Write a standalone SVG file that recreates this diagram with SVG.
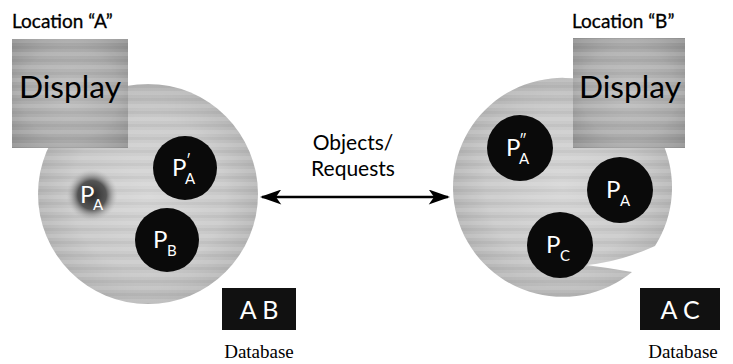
<svg xmlns="http://www.w3.org/2000/svg" width="733" height="364" viewBox="0 0 733 364">
<defs>
<radialGradient id="bigG" cx="50%" cy="50%" r="50%">
<stop offset="0" stop-color="#d6d6d6"/><stop offset="0.7" stop-color="#c8c8c8"/><stop offset="1" stop-color="#b6b6b6"/>
</radialGradient>
<radialGradient id="dispG" cx="50%" cy="50%" r="70%">
<stop offset="0" stop-color="#bdbdbd"/><stop offset="0.6" stop-color="#ababab"/><stop offset="1" stop-color="#8e8e8e"/>
</radialGradient>
<radialGradient id="blurG" cx="50%" cy="50%" r="50%">
<stop offset="0" stop-color="#2a2a2a"/><stop offset="0.55" stop-color="#555"/><stop offset="1" stop-color="#c0c0c0" stop-opacity="0"/>
</radialGradient>
<pattern id="streak" width="60" height="13" patternUnits="userSpaceOnUse">
<rect y="0" width="60" height="4" fill="#ffffff" opacity="0.12"/>
<rect y="7" width="60" height="3" fill="#000" opacity="0.04"/>
</pattern>
<marker id="ah" viewBox="0 0 20 14" refX="18" refY="7" markerWidth="22" markerHeight="15" markerUnits="userSpaceOnUse" orient="auto-start-reverse">
<path d="M0,0 L20,7 L0,14 L5,7 Z" fill="#000"/>
</marker>
<style>
.lbl{font-family:Lato,"Open Sans","Liberation Sans",sans-serif;fill:#000}
.loc{font-size:19px;stroke:#000;stroke-width:0.3}
.disp{font-size:30px;fill:#000}
.pw{font-family:Lato,"Open Sans","Liberation Sans",sans-serif;fill:#fff}
.pbig{font-size:24px}
.psub{font-size:15px}
.dbk{fill:#111}
.dbt{font-family:Lato,"Open Sans","Liberation Sans",sans-serif;font-size:25px;fill:#fff}
.dbl{font-family:"Liberation Serif","DejaVu Serif",serif;font-size:19px;fill:#000}
.pc{fill:#0a0a0a}
.big{fill:url(#bigG)}
.str{fill:url(#streak)}
</style>
</defs>
<rect width="733" height="364" fill="#fff"/>

<g id="locationA">
<text class="lbl loc" x="12" y="28">Location “A”</text>
<circle class="big" cx="148" cy="194" r="110"/>
<circle class="str" cx="148" cy="194" r="110"/>
<g id="displayA">
<rect x="12" y="39" width="116" height="109" fill="url(#dispG)"/>
<rect class="str" x="12" y="39" width="116" height="109"/>
<text class="lbl disp" x="19" y="98" textLength="102" lengthAdjust="spacingAndGlyphs">Display</text>
</g>
<g id="PA_left">
<circle cx="92" cy="195" r="26" fill="url(#blurG)"/>
<text class="pw pbig" x="80" y="203">P</text><text class="pw psub" x="93" y="210">A</text>
</g>
<g id="PA_prime">
<circle class="pc" cx="185" cy="168" r="32"/>
<text class="pw pbig" x="172" y="176">P</text><text class="pw psub" x="185" y="184">A</text><text class="pw psub" x="186" y="166">′</text>
</g>
<g id="PB">
<circle class="pc" cx="167" cy="240" r="32"/>
<text class="pw pbig" x="153" y="248">P</text><text class="pw psub" x="167" y="256">B</text>
</g>
<g id="dbA">
<rect class="dbk" x="222" y="288" width="74" height="42"/>
<text class="dbt" x="259" y="319" text-anchor="middle">A B</text>
<text class="dbl" x="259" y="358" text-anchor="middle">Database</text>
</g>
</g>

<g id="locationB">
<text class="lbl loc" x="572" y="28">Location “B”</text>
<path class="big" d="M632,272 A109.5,109.5 0 1 1 655,246 Q620,262 586,265 Q610,268 632,272 Z"/>
<path class="str" d="M632,272 A109.5,109.5 0 1 1 655,246 Q620,262 586,265 Q610,268 632,272 Z"/>
<g id="displayB">
<rect x="573" y="38" width="112" height="110" fill="url(#dispG)"/>
<rect class="str" x="573" y="38" width="112" height="110"/>
<text class="lbl disp" x="579" y="98" textLength="102" lengthAdjust="spacingAndGlyphs">Display</text>
</g>
<g id="PA_dprime">
<circle class="pc" cx="520" cy="148" r="33"/>
<text class="pw pbig" x="506" y="156">P</text><text class="pw psub" x="519" y="164">A</text><text class="pw psub" x="519" y="146">″</text>
</g>
<g id="PA_right">
<circle class="pc" cx="620" cy="190" r="33"/>
<text class="pw pbig" x="606" y="198">P</text><text class="pw psub" x="620" y="206">A</text>
</g>
<g id="PC">
<circle class="pc" cx="560" cy="245" r="33"/>
<text class="pw pbig" x="546" y="253">P</text><text class="pw psub" x="560" y="261">C</text>
</g>
<g id="dbB">
<rect class="dbk" x="640" y="288" width="80" height="42"/>
<text class="dbt" x="680" y="319" text-anchor="middle">A C</text>
<text class="dbl" x="683" y="358" text-anchor="middle">Database</text>
</g>
</g>

<g id="connectors">
<line x1="262" y1="197" x2="448" y2="197" stroke="#000" stroke-width="2.5" marker-start="url(#ah)" marker-end="url(#ah)"/>
<text class="lbl" font-size="21" x="353" y="150" text-anchor="middle">Objects/</text>
<text class="lbl" font-size="21" x="353" y="176" text-anchor="middle">Requests</text>
</g>
</svg>
